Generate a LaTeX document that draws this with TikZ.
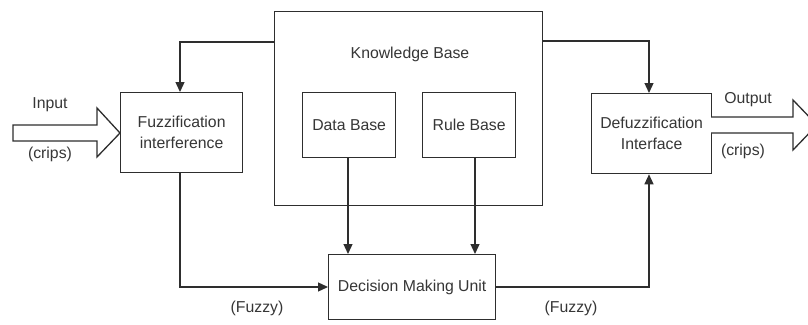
\documentclass[tikz,border=0pt]{standalone}
\usepackage{fontspec}
\setmainfont{Liberation Sans}
\usetikzlibrary{arrows.meta}
\definecolor{ln}{HTML}{2E2E2E}
\definecolor{tx}{HTML}{363636}
\tikzset{
  blk/.style={draw=ln, line width=1.3pt, fill=white, inner sep=0pt, align=center, text=tx, font=\fontsize{15.8}{19}\selectfont},
  lbl/.style={text=tx, font=\fontsize{15.8}{19}\selectfont, inner sep=0pt},
  conn/.style={draw=ln, line width=1.3pt, -{Triangle[length=10pt,width=9pt]}},
  hollow/.style={draw=ln, line width=1.3pt, fill=white, line join=miter}
}
\begin{document}
\begin{tikzpicture}[x=1pt,y=-1pt]
\useasboundingbox (0,0) rectangle (808,324);
% Knowledge base frame
\node[blk, minimum width=268pt, minimum height=194pt, anchor=north west] (kb) at (274,11) {};
\node[lbl] (kbt) at (410,54) {Knowledge Base};
\node[blk, minimum width=93pt, minimum height=65pt, anchor=north west] (db) at (302,92) {Data Base};
\node[blk, minimum width=93pt, minimum height=65pt, anchor=north west] (rb) at (422,92) {Rule Base};
\node[blk, minimum width=122pt, minimum height=80pt, anchor=north west] (fz) at (120,92) {Fuzzification\\[2pt]interference};
\node[blk, minimum width=120pt, minimum height=80pt, anchor=north west] (dz) at (591,93) {Defuzzification\\[2pt]Interface};
\node[blk, minimum width=167pt, minimum height=65pt, anchor=north west] (dm) at (328,254) {Decision Making Unit};
% connectors
\coordinate (kbl) at (274,42);
\coordinate (kbr) at (542,41);
\draw[conn] (kbl) -| (fz.north -| 180,0);
\draw[conn] (kbr) -| (dz.north -| 649,0);
\draw[conn] (db.south -| 348,0) -- (dm.north -| 348,0);
\draw[conn] (rb.south -| 475,0) -- (dm.north -| 475,0);
\draw[conn] (fz.south -| 180,0) |- (dm.west |- 0,287);
\draw[conn] (dm.east |- 0,287) -| (dz.south -| 649,0);
% hollow arrows
\draw[hollow] (13,125) -- (97,125) -- (97,108) -- (120,133) -- (97,157) -- (97,141) -- (13,141) -- cycle;
\draw[hollow] (711,117) -- (793,117) -- (793,100) -- (817,125) -- (793,150) -- (793,133) -- (711,133);
% labels
\node[lbl] (in) at (50,105) {Input};
\node[lbl] (inc) at (50,154) {(crips)};
\node[lbl] (out) at (748,100) {Output};
\node[lbl] (outc) at (743,151) {(crips)};
\node[lbl] (fl) at (257,308) {(Fuzzy)};
\node[lbl] (fr) at (571,308) {(Fuzzy)};
\end{tikzpicture}
\end{document}
